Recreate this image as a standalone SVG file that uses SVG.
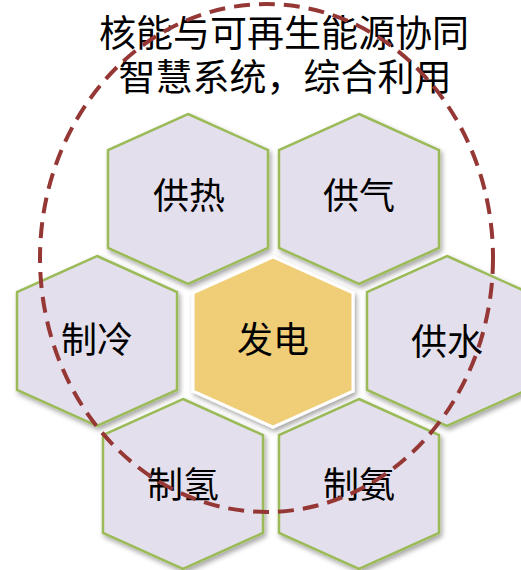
<svg xmlns="http://www.w3.org/2000/svg" width="521" height="570" viewBox="0 0 521 570">
  <defs>
    <filter id="sh" x="-20%" y="-20%" width="140%" height="140%">
      <feDropShadow dx="2" dy="3" stdDeviation="2.5" flood-color="#000" flood-opacity="0.35"/>
    </filter>
    <polygon id="hex" points="0,-85 80,-49 80,49 0,85 -80,49 -80,-49"/>
  </defs>
  <style>
    .hx { fill: #E4DFEC; stroke: #9BBB59; stroke-width: 2.5; filter: url(#sh); }
    .hc { fill: #F0CE78; stroke: #FFFFFF; stroke-width: 3; filter: url(#sh); }
    .lb { font-family: "Noto Sans CJK SC", "Noto Sans", sans-serif; font-size: 36px; fill: #000; text-anchor: middle; }
    .tt { font-family: "Noto Sans CJK SC", "Noto Sans", sans-serif; font-size: 37px; fill: #000; text-anchor: middle; }
    .ring { fill: none; stroke: #953735; stroke-width: 4; stroke-dasharray: 16 9; }
  </style>
  <rect width="521" height="570" fill="#FFFFFF"/>
  <g id="title">
    <text class="tt" x="284" y="47">核能与可再生能源协同</text>
    <text class="tt" x="285" y="91">智慧系统，综合利用</text>
  </g>
  <g id="n-heat" transform="translate(188,199)">
    <use href="#hex" class="hx"/>
    <text class="lb" x="1" y="10">供热</text>
  </g>
  <g id="n-gas" transform="translate(359,199)">
    <use href="#hex" class="hx"/>
    <text class="lb" x="0" y="10">供气</text>
  </g>
  <g id="n-cool" transform="translate(97,341)">
    <use href="#hex" class="hx"/>
    <text class="lb" x="0" y="12">制冷</text>
  </g>
  <g id="n-water" transform="translate(447,341)">
    <use href="#hex" class="hx"/>
    <text class="lb" x="0" y="14">供水</text>
  </g>
  <g id="n-h2" transform="translate(183,484)">
    <use href="#hex" class="hx"/>
    <text class="lb" x="0" y="14">制氢</text>
  </g>
  <g id="n-nh3" transform="translate(359,484)">
    <use href="#hex" class="hx"/>
    <text class="lb" x="0" y="14">制氨</text>
  </g>
  <g id="n-power" transform="translate(273,342)">
    <use href="#hex" class="hc"/>
    <text class="lb" x="0" y="11">发电</text>
  </g>
  <g id="connectors">
    <ellipse class="ring" cx="266.5" cy="258" rx="226.5" ry="254"/>
  </g>
</svg>
